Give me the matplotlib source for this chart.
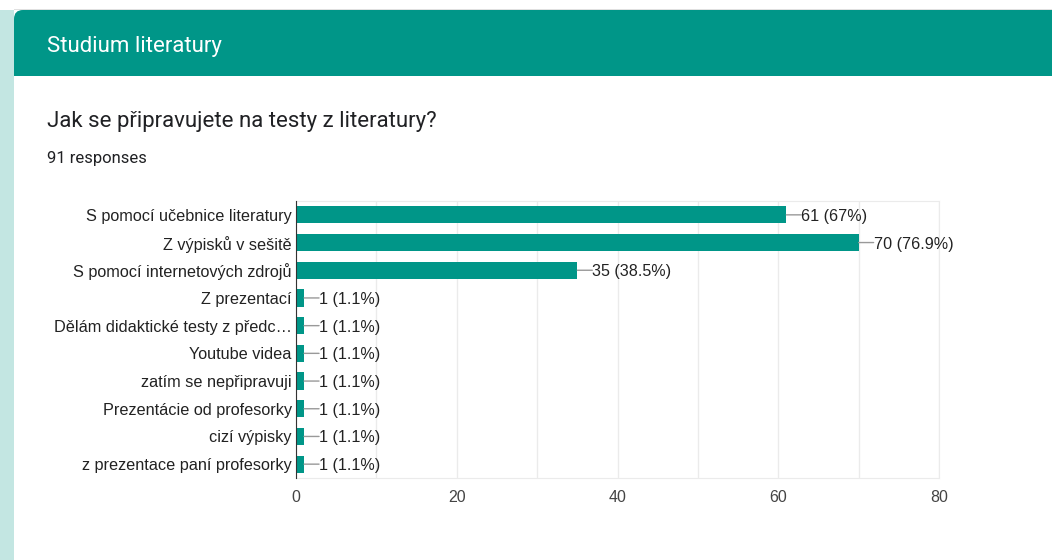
import matplotlib.pyplot as plt
from matplotlib.patches import FancyBboxPatch, Rectangle

# ====== DATA ======
categories = [
    "S pomocí učebnice literatury",
    "Z výpisků v sešitě",
    "S pomocí internetových zdrojů",
    "Z prezentací",
    "Dělám didaktické testy z předc…",
    "Youtube videa",
    "zatím se nepřipravuji",
    "Prezentácie od profesorky",
    "cizí výpisky",
    "z prezentace paní profesorky",
]
counts = [61, 70, 35, 1, 1, 1, 1, 1, 1, 1]
labels = ["61 (67%)", "70 (76.9%)", "35 (38.5%)", "1 (1.1%)", "1 (1.1%)",
          "1 (1.1%)", "1 (1.1%)", "1 (1.1%)", "1 (1.1%)", "1 (1.1%)"]
xticks = [0, 20, 40, 60, 80]

TEAL = "#009688"
LIGHT = "#c3e6e2"
W, H = 1052, 560

fig = plt.figure(figsize=(W / 100, H / 100), dpi=100)
fig.patch.set_facecolor("white")

# ====== CARD BACKGROUND (pixel coords) ======
bg = fig.add_axes([0, 0, 1, 1])
bg.set_xlim(0, W)
bg.set_ylim(H, 0)
bg.axis("off")
bg.add_patch(Rectangle((0, 10), 14, H - 10, color=LIGHT, lw=0))
bg.add_patch(Rectangle((14, 9), W, 1.2, color="#e0e0e0", lw=0))
bg.add_patch(FancyBboxPatch((14, 10), W + 40, 90, boxstyle="round,pad=0,rounding_size=9",
                            color=TEAL, lw=0, mutation_aspect=1))
bg.add_patch(Rectangle((14, 76), W, H - 76 - 4, color="white", lw=0))
bg.text(47, 46.5, "Studium literatury", color="white", fontsize=16,
        family="Roboto", va="center", ha="left")
bg.text(47, 122, "Jak se připravujete na testy z literatury?", color="#202124",
        fontsize=16, family="Roboto", va="center", ha="left")
bg.text(47, 158.5, "91 responses", color="#202124", fontsize=12,
        family="Roboto", va="center", ha="left")

# ====== BAR CHART ======
x0, x1, yt, yb = 296, 939, 201, 478
ax = fig.add_axes([x0 / W, 1 - yb / H, (x1 - x0) / W, (yb - yt) / H])
y = list(range(len(categories)))
ax.barh(y, counts, height=0.62, color=TEAL, zorder=3)
ax.set_ylim(len(categories) - 0.5, -0.5)
ax.set_xlim(0, 80)
ax.set_xticks(xticks)
ax.set_xticks(range(0, 81, 10), minor=True)
ax.grid(axis="x", which="both", color="#ebebeb", lw=1, zorder=0)
ax.tick_params(axis="x", which="both", length=0, pad=9, labelsize=11.5, labelcolor="#444444")
ax.tick_params(axis="y", length=0, pad=3, labelsize=11.7, labelcolor="#222222")
ax.set_yticks(y)
ax.set_yticklabels(categories)
for lbl in ax.get_xticklabels():
    lbl.set_family("Liberation Sans")
for lbl in ax.get_yticklabels():
    lbl.set_family("Liberation Sans")
    lbl.set_va("center_baseline")
for s in ["top", "right", "bottom"]:
    ax.spines[s].set_color("#ebebeb")
ax.spines["left"].set_color("#333333")
ax.spines["left"].set_zorder(4)

for i, (v, t) in enumerate(zip(counts, labels)):
    # leader line
    ax.annotate("", xy=(v, i), xytext=(15, 0), textcoords="offset pixels",
                arrowprops=dict(arrowstyle="-", color="#999999", lw=1,
                                shrinkA=0, shrinkB=0))
    ax.annotate(t, xy=(v, i), xytext=(15, 0), textcoords="offset pixels",
                va="center_baseline", ha="left", fontsize=11.6, color="#222222",
                family="Liberation Sans")

fig.savefig("out.png", dpi=100)
